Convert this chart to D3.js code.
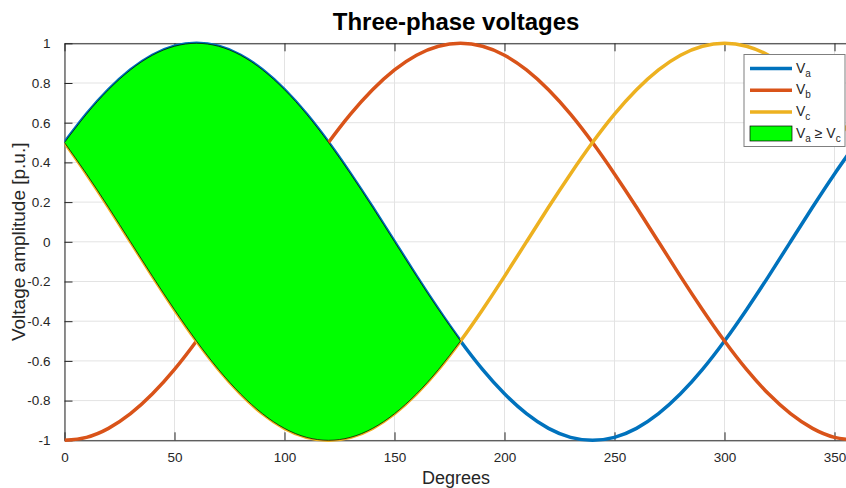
<!DOCTYPE html>
<html>
<head>
<meta charset="utf-8">
<script src="https://cdn.jsdelivr.net/npm/d3@7"></script>
<style>
  body { margin: 0; background: #fff; }
  svg { font-family: "Liberation Sans", Arial, sans-serif; display: block; }
  .tick text { fill: #262626; }
</style>
</head>
<body>
<div id="chart"></div>
<script>
// degrees sampled every 10
var degrees = [0, 10, 20, 30, 40, 50, 60, 70, 80, 90, 100, 110, 120, 130, 140, 150, 160, 170, 180,
  190, 200, 210, 220, 230, 240, 250, 260, 270, 280, 290, 300, 310, 320, 330, 340, 350, 360];

var va = [0.5, 0.643, 0.766, 0.866, 0.94, 0.985, 1, 0.985, 0.94, 0.866, 0.766, 0.643, 0.5, 0.342, 0.174, 0, -0.174, -0.342, -0.5,
  -0.643, -0.766, -0.866, -0.94, -0.985, -1, -0.985, -0.94, -0.866, -0.766, -0.643, -0.5, -0.342, -0.174, 0, 0.174, 0.342, 0.5];

var vb = [-1, -0.985, -0.94, -0.866, -0.766, -0.643, -0.5, -0.342, -0.174, 0, 0.174, 0.342, 0.5, 0.643, 0.766, 0.866, 0.94, 0.985, 1,
  0.985, 0.94, 0.866, 0.766, 0.643, 0.5, 0.342, 0.174, 0, -0.174, -0.342, -0.5, -0.643, -0.766, -0.866, -0.94, -0.985, -1];

var vc = [0.5, 0.342, 0.174, 0, -0.174, -0.342, -0.5, -0.643, -0.766, -0.866, -0.94, -0.985, -1, -0.985, -0.94, -0.866, -0.766, -0.643, -0.5,
  -0.342, -0.174, 0, 0.174, 0.342, 0.5, 0.643, 0.766, 0.866, 0.94, 0.985, 1, 0.985, 0.94, 0.866, 0.766, 0.643, 0.5];

var xTicks = [0, 50, 100, 150, 200, 250, 300, 350];
var yTicks = [-1, -0.8, -0.6, -0.4, -0.2, 0, 0.2, 0.4, 0.6, 0.8, 1];

var svgWidth = 846;
var svgHeight = 488;
var margin = { top: 43.3, left: 64.5 };
var xMax = 356;
var width = xMax * 2.2;
var height = 397;

var svg = d3.select("#chart")
  .append("svg")
  .attr("width", svgWidth)
  .attr("height", svgHeight);

var chartGroup = svg.append("g")
  .attr("transform", `translate(${margin.left}, ${margin.top})`);

var x = d3.scaleLinear().domain([0, xMax]).range([0, width]);
var y = d3.scaleLinear().domain([-1, 1]).range([height, 0]);

svg.append("defs").append("clipPath")
  .attr("id", "clip")
  .append("rect")
  .attr("y", -3)
  .attr("width", width)
  .attr("height", height + 6);

// grid
chartGroup.append("g").selectAll("line.gx")
  .data(xTicks)
  .enter()
  .append("line")
  .attr("x1", d => x(d)).attr("x2", d => x(d))
  .attr("y1", 0).attr("y2", height)
  .attr("stroke", "#e3e3e3").attr("stroke-width", 1);

chartGroup.append("g").selectAll("line.gy")
  .data(yTicks)
  .enter()
  .append("line")
  .attr("x1", 0).attr("x2", width)
  .attr("y1", d => y(d)).attr("y2", d => y(d))
  .attr("stroke", "#e3e3e3").attr("stroke-width", 1);

// axes
var bottomAxis = d3.axisBottom(x).tickValues(xTicks).tickSizeInner(-8).tickSizeOuter(0).tickPadding(12);
var topAxis = d3.axisTop(x).tickValues(xTicks).tickSizeInner(-8).tickSizeOuter(0).tickFormat("");
var leftAxis = d3.axisLeft(y).tickValues(yTicks).tickSizeInner(-8).tickSizeOuter(0).tickPadding(14)
  .tickFormat(d => d3.format("")(d).replace("−", "-"));

var gb = chartGroup.append("g").attr("transform", `translate(0, ${height})`).call(bottomAxis);
var gt = chartGroup.append("g").call(topAxis);
var gl = chartGroup.append("g").call(leftAxis);

[gb, gt, gl].forEach(function (g) {
  g.select(".domain").attr("stroke", "#262626").attr("stroke-width", 1);
  g.selectAll(".tick line").attr("stroke", "#262626");
  g.selectAll(".tick text").style("font-size", "13.5px");
});

var pts = degrees.map((d, i) => ({ deg: d, a: va[i], b: vb[i], c: vc[i] }));

var plot = chartGroup.append("g").attr("clip-path", "url(#clip)");

var colors = { a: "#0072BD", b: "#D95319", c: "#EDB120" };

["a", "b", "c"].forEach(function (k) {
  var line = d3.line()
    .x(d => x(d.deg))
    .y(d => y(d[k]))
    .curve(d3.curveNatural);
  plot.append("path")
    .datum(pts)
    .attr("d", line)
    .attr("fill", "none")
    .attr("stroke", colors[k])
    .attr("stroke-width", 3.5);
});

// region where Va >= Vc
var area = d3.area()
  .x(d => x(d.deg))
  .y0(d => y(d.c))
  .y1(d => y(d.a))
  .curve(d3.curveNatural);

plot.append("path")
  .datum(pts.filter(d => d.deg <= 180))
  .attr("d", area)
  .attr("fill", "#00ff00")
  .attr("stroke", "#000")
  .attr("stroke-width", 0.7);

// title and labels
svg.append("text")
  .attr("x", margin.left + width / 2)
  .attr("y", 30)
  .attr("text-anchor", "middle")
  .style("font-size", "24px")
  .style("font-weight", "bold")
  .text("Three-phase voltages");

svg.append("text")
  .attr("x", margin.left + width / 2)
  .attr("y", 484)
  .attr("text-anchor", "middle")
  .style("font-size", "18px")
  .attr("fill", "#262626")
  .text("Degrees");

svg.append("text")
  .attr("transform", `translate(25, ${margin.top + height / 2}) rotate(-90)`)
  .attr("text-anchor", "middle")
  .style("font-size", "19px")
  .attr("fill", "#262626")
  .text("Voltage amplitude [p.u.]");

// legend
var legend = svg.append("g").attr("transform", "translate(744, 54.5)");
legend.append("rect")
  .attr("width", 101).attr("height", 92)
  .attr("fill", "#fff").attr("stroke", "#7f7f7f").attr("stroke-width", 1);

var legendItems = [
  { key: "a", label: "a" },
  { key: "b", label: "b" },
  { key: "c", label: "c" }
];

legendItems.forEach(function (d, i) {
  var yy = 14 + i * 21.7;
  legend.append("line")
    .attr("x1", 6).attr("x2", 48)
    .attr("y1", yy).attr("y2", yy)
    .attr("stroke", colors[d.key]).attr("stroke-width", 3.5);
  var t = legend.append("text")
    .attr("x", 52).attr("y", yy + 4)
    .style("font-size", "14px")
    .attr("fill", "#262626");
  t.append("tspan").text("V");
  t.append("tspan").attr("dy", 4).style("font-size", "10px").text(d.label);
});

legend.append("rect")
  .attr("x", 6).attr("y", 71.5)
  .attr("width", 42).attr("height", 15)
  .attr("fill", "#00ff00").attr("stroke", "#000").attr("stroke-width", 0.7);

var t4 = legend.append("text")
  .attr("x", 52).attr("y", 83.5)
  .style("font-size", "14px")
  .attr("fill", "#262626");
t4.append("tspan").text("V");
t4.append("tspan").attr("dy", 4).style("font-size", "10px").text("a");
t4.append("tspan").attr("dy", -4).text(" \u2265 V");
t4.append("tspan").attr("dy", 4).style("font-size", "10px").text("c");
</script>
</body>
</html>
